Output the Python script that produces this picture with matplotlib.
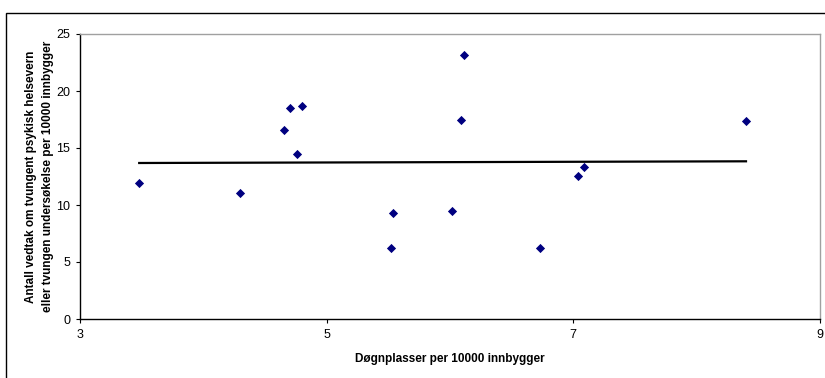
import numpy as np
import matplotlib
matplotlib.use("Agg")
import matplotlib.pyplot as plt
from matplotlib.patches import Rectangle

plt.rcParams['font.family'] = ['Liberation Sans', 'DejaVu Sans']

# Døgnplasser per 10000 innbyggere (x) og vedtak per 10000 innbyggere (y)
dognplasser = [3.48, 4.30, 4.65, 4.70, 4.80, 4.76, 5.54, 5.52,
               6.11, 6.09, 6.02, 6.73, 7.04, 7.09, 8.40]
vedtak = [11.93, 11.08, 16.6, 18.48, 18.66, 14.45, 9.33, 6.23,
          23.13, 17.43, 9.5, 6.23, 12.57, 13.3, 17.34]

x_ticks = [3, 5, 7, 9]
y_ticks = [0, 5, 10, 15, 20, 25]

W, H = 825, 378
fig = plt.figure(figsize=(W / 100, H / 100), dpi=100)

# outer chart frame
fig.patches.append(Rectangle((6 / W, -0.1), 1.2, 1 - 12.7 / H + 0.1,
                             transform=fig.transFigure, fill=False,
                             edgecolor='black', linewidth=1.0))

ax = fig.add_axes([80 / W, 1 - 319 / H, 740 / W, 285 / H])

xs = np.array(dognplasser)
ys = np.array(vedtak)
ax.scatter(xs, ys, marker='D', s=22, color='#000080', zorder=3, linewidths=0)

# linear trend line
slope, intercept = np.polyfit(xs, ys, 1)
tx = np.array([xs.min(), xs.max()])
ax.plot(tx, slope * tx + intercept, color='black', linewidth=1.6, zorder=2)

ax.set_xlim(3, 9)
ax.set_ylim(0, 25)
ax.set_xticks(x_ticks)
ax.set_yticks(y_ticks)
ax.tick_params(axis='both', direction='out', length=3, width=0.8,
               labelsize=9, colors='black', pad=4)

for side in ('top', 'right'):
    ax.spines[side].set_color('#a0a0a0')
    ax.spines[side].set_linewidth(1.0)
for side in ('left', 'bottom'):
    ax.spines[side].set_color('black')
    ax.spines[side].set_linewidth(1.0)

ax.set_xlabel('Døgnplasser per 10000 innbygger', fontsize=8.5,
              fontweight='bold', labelpad=9)
ax.set_ylabel('Antall vedtak om tvungent psykisk helsevern\n'
              'eller tvungen undersøkelse per 10000 innbygger',
              fontsize=8.5, fontweight='bold', labelpad=1.5, linespacing=1.55)

fig.savefig('out.png', dpi=100)
